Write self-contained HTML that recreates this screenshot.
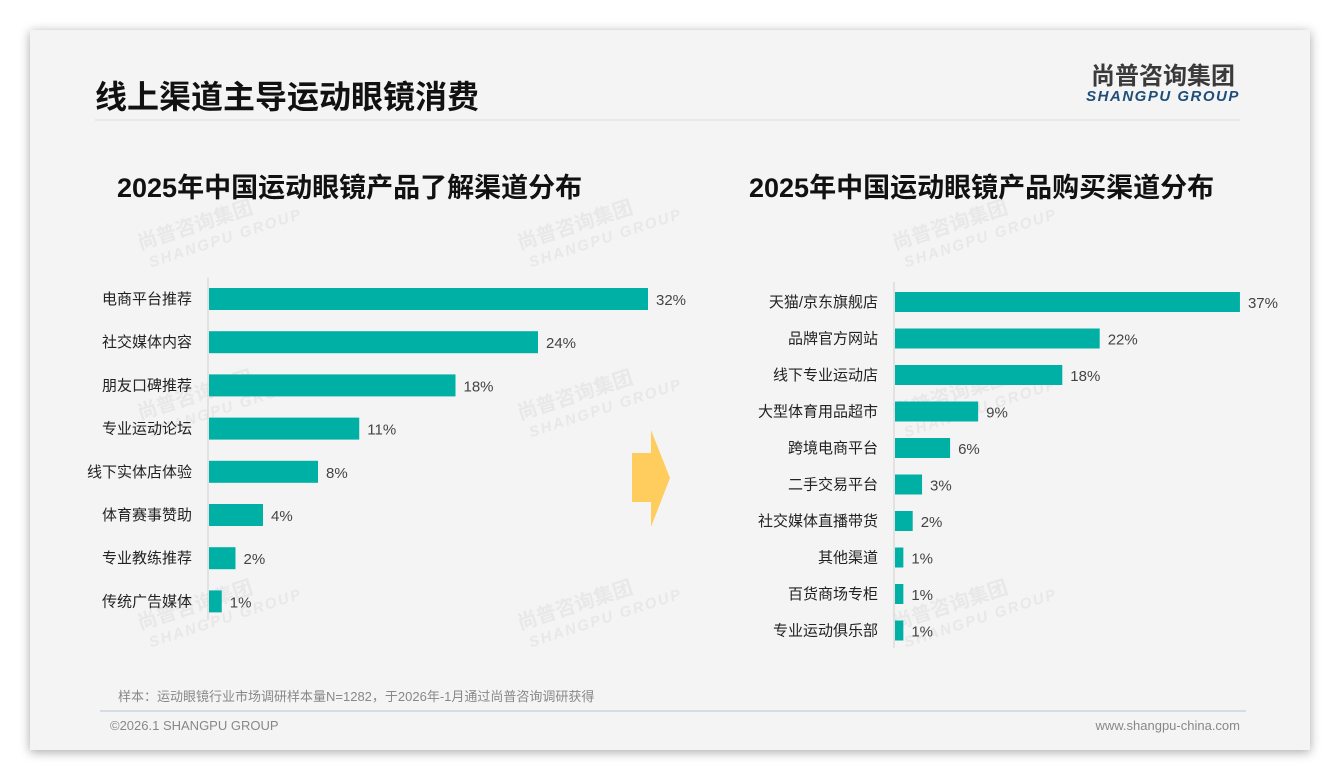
<!DOCTYPE html>
<html><head><meta charset="utf-8">
<style>
body{margin:0;width:1340px;height:780px;background:#fff;overflow:hidden;font-family:"Liberation Sans","Noto Sans CJK SC",sans-serif}
#card{position:absolute;left:30px;top:30px;width:1280px;height:720px;background:#f4f4f4;box-shadow:0 2px 10px rgba(0,0,0,.35)}
</style></head><body>
<div id="card"></div>
<svg width="1340" height="780" style="position:absolute;left:0;top:0" font-family="Liberation Sans, Noto Sans CJK SC, sans-serif">
<g id="wm" fill="#e8e8e8" font-weight="bold"></g>
<text x="95" y="108" font-size="32" font-weight="bold" fill="#111">线上渠道主导运动眼镜消费</text>
<line x1="95" y1="120" x2="1240" y2="120" stroke="#ddd" stroke-width="1"/>
<text x="1163" y="84" font-size="24" font-weight="bold" fill="#3a3a3a" text-anchor="middle">尚普咨询集团</text>
<text x="1163" y="101" font-size="15" font-weight="bold" font-style="italic" fill="#1f4e79" text-anchor="middle" letter-spacing="1.5">SHANGPU GROUP</text>
<text x="117" y="197" font-size="27" font-weight="bold" fill="#111">2025年中国运动眼镜产品了解渠道分布</text>
<text x="749" y="197" font-size="27" font-weight="bold" fill="#111">2025年中国运动眼镜产品购买渠道分布</text>
<g id="left"></g>
<g id="right"></g>
<polygon points="632,453 651,453 651,430 670,478 651,527 651,502 632,502" fill="#ffcd5e"/>
<text x="118" y="701" font-size="13" fill="#888">样本：运动眼镜行业市场调研样本量N=1282，于2026年-1月通过尚普咨询调研获得</text>
<line x1="100" y1="711" x2="1246" y2="711" stroke="#b8c4d4" stroke-width="1"/>
<text x="110" y="730" font-size="13" fill="#888">©2026.1 SHANGPU GROUP</text>
<text x="1240" y="730" font-size="13" fill="#888" text-anchor="end">www.shangpu-china.com</text>
</svg>
<script>
const leftCats=["电商平台推荐","社交媒体内容","朋友口碑推荐","专业运动论坛","线下实体店体验","体育赛事赞助","专业教练推荐","传统广告媒体"];
const leftVals=[32,24,18,11,8,4,2,1];
const rightCats=["天猫/京东旗舰店","品牌官方网站","线下专业运动店","大型体育用品超市","跨境电商平台","二手交易平台","社交媒体直播带货","其他渠道","百货商场专柜","专业运动俱乐部"];
const rightVals=[37,22,18,9,6,3,2,1,1,1];
const NS="http://www.w3.org/2000/svg";
function mk(p,t,a){const e=document.createElementNS(NS,t);for(const k in a)e.setAttribute(k,a[k]);p.appendChild(e);return e;}
function draw(g,cats,vals,o){
  const x=v=>o.x0+v*o.scale;
  const y=i=>o.y0+i*o.step;
  const ax=mk(g,"line",{x1:o.x0,x2:o.x0,y1:o.ay1,y2:o.ay2,stroke:"#d0d0d0","stroke-width":1});
  
  
  cats.forEach((c,i)=>{
    const cy=y(i);
    const r=mk(g,"rect",{x:o.x0+1,y:cy-o.h/2,width:x(vals[i])-o.x0-1,height:o.h,fill:"#00b0a4"});
    
    
    const l=mk(g,"text",{x:o.x0-16,y:cy+5,"font-size":15,fill:"#222","text-anchor":"end"});
    l.textContent=c;
    
    
    const v=mk(g,"text",{x:x(vals[i])+8,y:cy+6,"font-size":15,fill:"#444"});
    v.textContent=vals[i]+"%";
    
    
  });
}
draw(document.getElementById("left"),leftCats,leftVals,{x0:208,scale:13.75,y0:299,step:43.2,h:22,ay1:278,ay2:620});
draw(document.getElementById("right"),rightCats,rightVals,{x0:894,scale:9.35,y0:302,step:36.5,h:20,ay1:282,ay2:648});
const wm=document.getElementById("wm");
[[140,250],[520,250],[895,250],[140,420],[520,420],[895,420],[140,630],[520,630],[895,630]].forEach(p=>{
  const t=mk(wm,"text",{x:p[0],y:p[1],"font-size":20,transform:`rotate(-18 ${p[0]} ${p[1]})`});
  t.textContent="尚普咨询集团";
  
  
  const t2=mk(wm,"text",{x:p[0]+5,y:p[1]+20,"font-size":15,"font-style":"italic",transform:`rotate(-18 ${p[0]} ${p[1]})`,"letter-spacing":"2"});
  t2.textContent="SHANGPU GROUP";
  
  
});
</script>
</body></html>
